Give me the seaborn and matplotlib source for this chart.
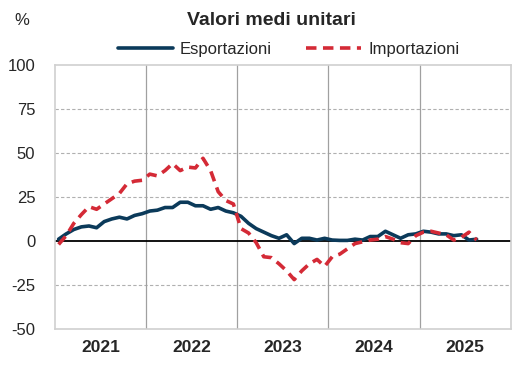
import seaborn as sns
import matplotlib.pyplot as plt
import pandas as pd
import numpy as np
from matplotlib import font_manager

# monthly values, Jan 2021 - Aug 2025 (% change)
years = ["2021", "2022", "2023", "2024", "2025"]
esportazioni = [1, 4, 6.5, 8, 8.5, 7.5, 11, 12.5, 13.5, 12.5, 14.5, 15.5,
                17, 17.5, 19, 19, 22, 22, 20, 20, 18, 19, 17, 16,
                14, 10, 7, 5, 3, 1.5, 3.5, -1.5, 1.5, 1.5, 0.5, 1.5,
                0.5, 0.3, 0.3, 1, 0.5, 2.5, 2.5, 5.5, 3.5, 1.5, 3.5, 4,
                5.5, 5, 4, 4, 3, 3.5, 0.5, 1]
importazioni = [-2, 3, 10, 15, 19.5, 18, 21, 24, 27, 32.5, 34, 34.5,
                38, 37, 40, 44, 40, 42, 41.5, 47, 40, 28, 23, 21,
                7, 4.5, -1, -9, -9.5, -13, -17, -22, -17, -13, -10.5, -14.5,
                -9, -7.5, -4.5, -1.5, -0.5, 0.5, 1, 2.5, 1, -1, -1.5, 3,
                5, 5.5, 4.5, 3.5, 0.5, 2, 5, 0.5]

sns.set_style("white")
names = [f.name for f in font_manager.fontManager.ttflist]
fam = "Liberation Sans Narrow" if "Liberation Sans Narrow" in names else "Liberation Sans"
plt.rcParams['font.family'] = [fam, 'DejaVu Sans']

df = pd.DataFrame({
    "mese": list(range(len(esportazioni))) * 2,
    "valore": esportazioni + importazioni,
    "serie": ["Esportazioni"] * len(esportazioni) + ["Importazioni"] * len(importazioni),
})

fig = plt.figure(figsize=(5.17, 3.72), dpi=100)
ax = fig.add_axes([0.106, 0.116, 0.882, 0.709])

sns.lineplot(data=df, x="mese", y="valore", hue="serie", style="serie",
             palette={"Esportazioni": "#0b3a5a", "Importazioni": "#d42a36"},
             dashes={"Esportazioni": "", "Importazioni": (2.9, 1.8)},
             linewidth=2.6, ax=ax, legend=False, zorder=3)

ax.set_xlim(-0.5, 59.5)
ax.set_ylim(-50, 100)
ax.set_yticks(np.arange(-50, 101, 25))
ax.set_yticklabels([str(v) for v in range(-50, 101, 25)], fontsize=12)
for v in [-25, 25, 50, 75]:
    ax.axhline(v, color="#b0b0b0", lw=0.8, ls=(0, (3, 2)), zorder=1)
ax.axhline(0, color="black", lw=1.3, zorder=2)
for k in range(1, 5):
    ax.axvline(12 * k - 0.5, color="#a0a0a0", lw=0.9, zorder=1)

ax.set_xticks([12 * k + 5.5 for k in range(5)])
ax.set_xticklabels(years, fontsize=12.5, fontweight="bold")
ax.tick_params(axis="both", length=0, pad=8)
ax.tick_params(axis="y", pad=14)
ax.set_xlabel("")
ax.set_ylabel("")
for s in ax.spines.values():
    s.set_color("#d0d0d0")
    s.set_linewidth(1.2)

fig.text(0.525, 0.945, "Valori medi unitari", ha="center", va="center",
         fontsize=14, fontweight="bold")
fig.text(0.042, 0.945, "%", ha="center", va="center", fontsize=12)

h1, = ax.plot([], [], color="#0b3a5a", lw=2.6)
h2, = ax.plot([], [], color="#d42a36", lw=2.6, ls=(0, (2.9, 1.8)))
fig.legend([h1, h2], ["Esportazioni", "Importazioni"], loc="center",
           bbox_to_anchor=(0.558, 0.868), ncol=2, frameon=False, fontsize=12,
           handlelength=3.3, handletextpad=0.4, columnspacing=2.1)

fig.savefig("out.png", dpi=100)
